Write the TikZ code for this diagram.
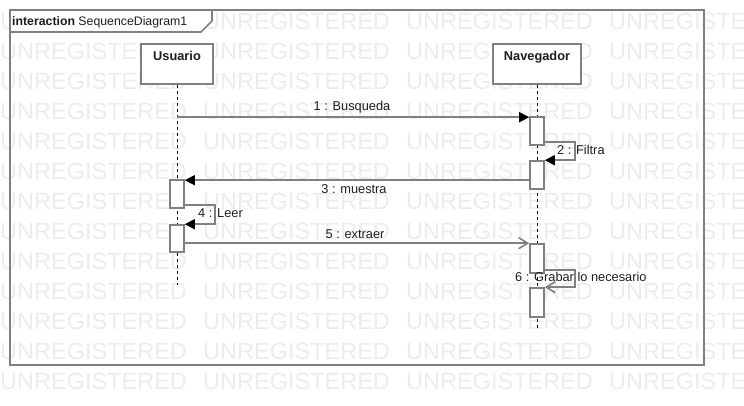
\documentclass[tikz,border=0pt]{standalone}
\usepackage{fontspec}
\setmainfont{Liberation Sans}
\usepackage{tikz}
\usetikzlibrary{arrows.meta, positioning, calc}
\definecolor{umlgray}{RGB}{128, 128, 128}
\definecolor{umltext}{RGB}{30, 30, 30}
\definecolor{markgray}{RGB}{236, 236, 236}

\tikzset{
    watermark/.style={anchor=west, inner sep=0pt, text=markgray,
        font=\fontsize{23.5}{24}\selectfont, text height=16.8pt, text depth=0pt},
    umlframe/.style={draw=umlgray, line width=1.6pt},
    actorbox/.style={draw=umlgray, fill=white, line width=1.6pt, inner sep=0pt,
        minimum height=40pt},
    actbar/.style={draw=umlgray, fill=white, line width=1.6pt, inner sep=0pt,
        minimum width=14pt},
    lifeline/.style={draw=black, line width=0.9pt, dash pattern=on 3pt off 3pt},
    nametext/.style={text=umltext, font=\fontsize{12.8}{14}\selectfont\bfseries,
        inner sep=0pt, text height=9.2pt, text depth=0pt},
    msgtext/.style={text=umltext, font=\fontsize{12.8}{14}\selectfont,
        inner sep=0pt, text height=9.2pt, text depth=0pt},
    callmsg/.style={draw=umlgray, line width=1.6pt,
        -{Triangle[length=10pt, width=10pt, color=black]}},
    asyncmsg/.style={draw=umlgray, line width=1.6pt,
        -{Straight Barb[length=9pt, width=11pt]}}
}

\begin{document}
\begin{tikzpicture}[x=1pt, y=-1pt]
    \useasboundingbox (0,0) rectangle (744,405);

    % watermark rows
    \begin{scope}
        \clip (0,0) rectangle (744,405);
        \foreach \row in {0,...,12}
            \foreach \col in {0,...,3}
                \node[watermark] at (203*\col, 21+30*\row) {UNREGISTERED};
    \end{scope}

    % frame and title tab
    \draw[umlframe] (10,10) rectangle (704,365);
    \draw[umlframe, fill=white] (10,10) -- (212,10) -- (212,21) -- (201,32) -- (10,32) -- cycle;
    \node[msgtext, anchor=west, font=\fontsize{12.3}{14}\selectfont] (title) at (12,21)
        {\textbf{interaction} SequenceDiagram1};

    % participants
    \node[actorbox, minimum width=72pt] (usuario) at (177,64) {};
    \node[actorbox, minimum width=88pt] (navegador) at (537,64) {};
    \node[nametext] (usuarioname) at ([yshift=-13pt]usuario.north) {Usuario};
    \node[nametext] (navegadorname) at ([yshift=-13pt]navegador.north) {Navegador};

    % lifelines
    \coordinate (usuarioend) at (177,285);
    \coordinate (navegadorend) at (537,329);
    \draw[lifeline] (usuario.south) -- (usuarioend);
    \draw[lifeline] (navegador.south) -- (navegadorend);

    % activation bars
    \node[actbar, minimum height=28pt] (n1) at (537,131) {};
    \node[actbar, minimum height=28pt] (n2) at (537,175) {};
    \node[actbar, minimum height=29pt] (n3) at (537,258.5) {};
    \node[actbar, minimum height=29pt] (n4) at (537,302.5) {};
    \node[actbar, minimum height=28pt] (u1) at (177,194) {};
    \node[actbar, minimum height=27pt] (u2) at (177,238.5) {};

    % messages
    \draw[callmsg] ([yshift=-1pt]usuario |- n1.north) -- ([yshift=-1pt]n1.north west);
    \draw[callmsg] ([yshift=4pt]n1.south east) -- ++(30,0) |- (n2.north east);
    \draw[callmsg] ([yshift=-1pt]n2.west |- u1.north) -- ([yshift=-1pt]u1.north east);
    \draw[callmsg] ([yshift=4pt]u1.south east) -- ++(30,0) |- (u2.north east);
    \draw[asyncmsg] (u2.east |- n3.north) -- (n3.north west);
    \draw[asyncmsg] ([yshift=4pt]n3.south east) -- ++(30,0) |- (n4.north east);

    % message labels
    \node[msgtext] (busquedalbl) at (352,106) {1 : Busqueda};
    \node[msgtext, anchor=west] (filtralbl) at (557,150) {2 : Filtra};
    \node[msgtext] (muestralbl) at (354,189) {3 : muestra};
    \node[msgtext, anchor=west] (leerlbl) at (198,213) {4 : Leer};
    \node[msgtext] (extraerlbl) at (355,234) {5 : extraer};
    \node[msgtext, anchor=west] (grabarlbl) at (515,277) {6 : Grabar lo necesario};
\end{tikzpicture}
\end{document}
